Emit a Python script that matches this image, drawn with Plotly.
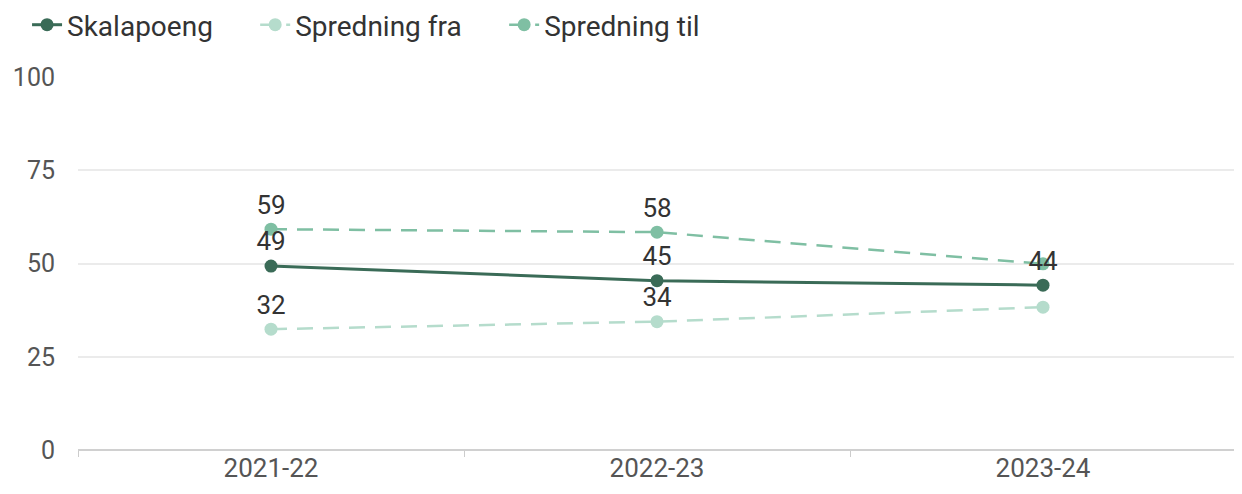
import plotly.graph_objects as go

years = ['2021-22', '2022-23', '2023-24']
skalapoeng = [49.3, 45.4, 44.2]
spredning_fra = [32.4, 34.4, 38.3]
spredning_til = [59.2, 58.4, 49.9]
label_fra = ['32', '34', '']
label_til = ['59', '58', '']

dark = '#3a6b57'
light = '#b5dccc'
mid = '#7fbfa3'

fig = go.Figure()
fig.add_trace(go.Scatter(
    x=years, y=spredning_fra, name='Spredning fra', mode='lines+markers+text',
    text=label_fra, textposition='top center', legend='legend2',
    line=dict(color=light, width=2.5, dash='16px,10px'),
    marker=dict(size=13, color=light),
))
fig.add_trace(go.Scatter(
    x=years, y=spredning_til, name='Spredning til', mode='lines+markers+text',
    text=label_til, textposition='top center', legend='legend3',
    line=dict(color=mid, width=2.5, dash='16px,10px'),
    marker=dict(size=13, color=mid),
))
fig.add_trace(go.Scatter(
    x=years, y=skalapoeng, name='Skalapoeng', mode='lines+markers+text',
    texttemplate='%{y:.0f}', textposition='top center', legend='legend',
    line=dict(color=dark, width=3),
    marker=dict(size=13, color=dark),
))
fig.update_traces(showlegend=True, textfont=dict(size=26, color='#333333'))

leg = dict(orientation='h', y=0.965, yanchor='middle', xanchor='left', yref='container',
           font=dict(size=28, color='#333333'), bgcolor='rgba(0,0,0,0)')

fig.update_layout(
    width=1234, height=486,
    margin=dict(l=70, r=6, t=69, b=44),
    plot_bgcolor='white', paper_bgcolor='white',
    font=dict(family='Roboto', size=24, color='#333333'),
    showlegend=True,
    legend=dict(leg, x=-0.044),
    legend2=dict(leg, x=0.153),
    legend3=dict(leg, x=0.368),
)
fig.update_xaxes(type='category', range=[-0.5, 2.5], tickson='boundaries',
                 ticks='outside', ticklen=6, tickcolor='#cccccc',
                 showline=False, showgrid=False,
                 tickfont=dict(size=26, color='#555555'))
fig.update_yaxes(range=[0, 100], tickvals=[0, 25, 50, 75, 100],
                 gridcolor='#ebebeb', gridwidth=1.5, zeroline=True,
                 zerolinecolor='#d0d0d0', zerolinewidth=2,
                 tickfont=dict(size=25, color='#555555'), ticklabelstandoff=22)

fig.write_html('out.html')
